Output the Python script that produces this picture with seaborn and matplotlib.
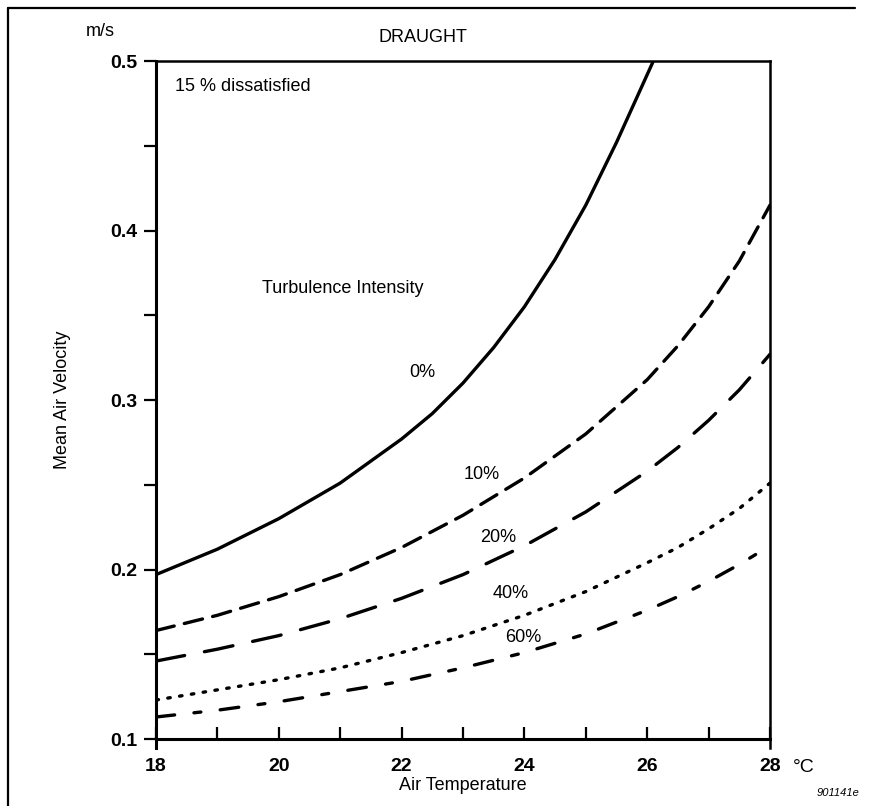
import matplotlib
matplotlib.use("Agg")
import matplotlib.pyplot as plt
from matplotlib.lines import Line2D
import seaborn as sns
import pandas as pd

# ---- data ----
temps = [18, 19, 20, 21, 22, 23, 24, 25, 26, 26.5, 27, 27.5, 28]
temps_0 = [18, 19, 20, 21, 22, 22.5, 23, 23.5, 24, 24.5, 25, 25.5, 26, 26.1]
v_tu0 = [0.197, 0.212, 0.230, 0.251, 0.277, 0.292, 0.310, 0.331, 0.355, 0.383,
         0.415, 0.452, 0.492, 0.5]
v_tu10 = [0.164, 0.173, 0.184, 0.197, 0.213, 0.232, 0.254, 0.280, 0.312, 0.332,
          0.355, 0.382, 0.415]
v_tu20 = [0.146, 0.153, 0.161, 0.171, 0.183, 0.197, 0.214, 0.234, 0.258, 0.272,
          0.288, 0.306, 0.327]
v_tu40 = [0.123, 0.129, 0.135, 0.142, 0.151, 0.161, 0.173, 0.187, 0.204, 0.213,
          0.224, 0.236, 0.251]
v_tu60 = [0.113, 0.117, 0.122, 0.128, 0.134, 0.142, 0.151, 0.162, 0.176, 0.184,
          0.193, 0.203, 0.214]
labels = ["0%", "10%", "20%", "40%", "60%"]
label_pos = [(22.33, 0.316), (23.31, 0.256), (23.57, 0.219), (23.77, 0.186), (23.98, 0.160)]
x_ticks = [18, 20, 22, 24, 26, 28]
x_minor = [19, 21, 23, 25, 27]
y_ticks = [0.1, 0.2, 0.3, 0.4, 0.5]
y_minor = [0.15, 0.25, 0.35, 0.45]

rows = []
for t, v in zip(temps_0, v_tu0):
    rows.append(("0%", t, v))
for name, vals in zip(labels[1:], [v_tu10, v_tu20, v_tu40, v_tu60]):
    for t, v in zip(temps, vals):
        rows.append((name, t, v))
df = pd.DataFrame(rows, columns=["tu", "temp", "vel"])

sns.set_style("white")
plt.rcParams["font.family"] = ["Liberation Sans", "DejaVu Sans"]
plt.rcParams["text.color"] = "black"
plt.rcParams["axes.labelcolor"] = "black"
plt.rcParams["lines.scale_dashes"] = False
plt.rcParams["lines.dash_capstyle"] = "round"
plt.rcParams["lines.solid_capstyle"] = "round"
plt.rcParams["lines.solid_joinstyle"] = "round"

fig = plt.figure(figsize=(8.69, 8.06), dpi=100)
ax = fig.add_axes([0.1795, 0.0831, 0.7066, 0.8412])

dash_map = {
    "0%": "",
    "10%": (13.5, 7.5),
    "20%": (21, 14.5),
    "40%": (1.8, 6.8),
    "60%": (13.5, 14.0, 5.0, 14.0),
}
sns.lineplot(data=df, x="temp", y="vel", hue="tu", style="tu",
             palette={k: "black" for k in labels}, dashes=dash_map,
             linewidth=2.4, legend=False, sort=True, ax=ax)

ax.set_xlim(18, 28)
ax.set_ylim(0.1, 0.5)

ax.set_xticks(x_ticks)
ax.set_xticks(x_minor, minor=True)
ax.set_yticks(y_ticks)
ax.set_yticks(y_minor, minor=True)
ax.set_xticklabels([str(t) for t in x_ticks], fontsize=14, fontweight="bold")
ax.set_yticklabels([f"{v:.1f}" for v in y_ticks], fontsize=14, fontweight="bold")
ax.tick_params(axis="x", which="both", direction="in", length=8.5, width=1.6,
               pad=14, colors="black", bottom=True)
ax.tick_params(axis="y", which="both", direction="out", length=8.5, width=1.6,
               pad=5, colors="black", left=True)

for s in ["left", "bottom", "top", "right"]:
    ax.spines[s].set_visible(True)
    ax.spines[s].set_color("black")
ax.spines["left"].set_linewidth(2.2)
ax.spines["bottom"].set_linewidth(2.2)
ax.spines["top"].set_linewidth(1.8)
ax.spines["right"].set_linewidth(1.8)
ax.spines["left"].set_bounds(0.0945, 0.5)
ax.spines["right"].set_bounds(0.0945, 0.5)

ax.set_xlabel("Air Temperature", fontsize=13, labelpad=1)
ax.set_ylabel("Mean Air Velocity", fontsize=13, labelpad=28)

for lab, (x, y) in zip(labels, label_pos):
    ax.text(x, y, lab, fontsize=13, ha="center", va="center")

ax.text(18.31, 0.485, "15 % dissatisfied", fontsize=13, ha="left", va="center")
ax.text(22.35, 0.366, "Turbulence Intensity", fontsize=13, ha="right", va="center")

fig.text(100 / 869, 1 - 31 / 806, "m/s", fontsize=13, ha="center", va="center")
fig.text(423 / 869, 1 - 38 / 806, "DRAUGHT", fontsize=13, ha="center", va="center")
fig.text(804 / 869, 1 - 767 / 806, "°C", fontsize=14, ha="center", va="center")
fig.text(838 / 869, 1 - 793 / 806, "901141e", fontsize=8, ha="center", va="center",
         style="italic")

# scanned page frame
fig.add_artist(Line2D([8 / 869, 8 / 869], [0, 1 - 8 / 806], transform=fig.transFigure,
                      color="black", lw=1.6))
fig.add_artist(Line2D([8 / 869, 855 / 869], [1 - 8 / 806, 1 - 8 / 806],
                      transform=fig.transFigure, color="black", lw=1.6))

fig.savefig("out.png", dpi=100, facecolor="white")
